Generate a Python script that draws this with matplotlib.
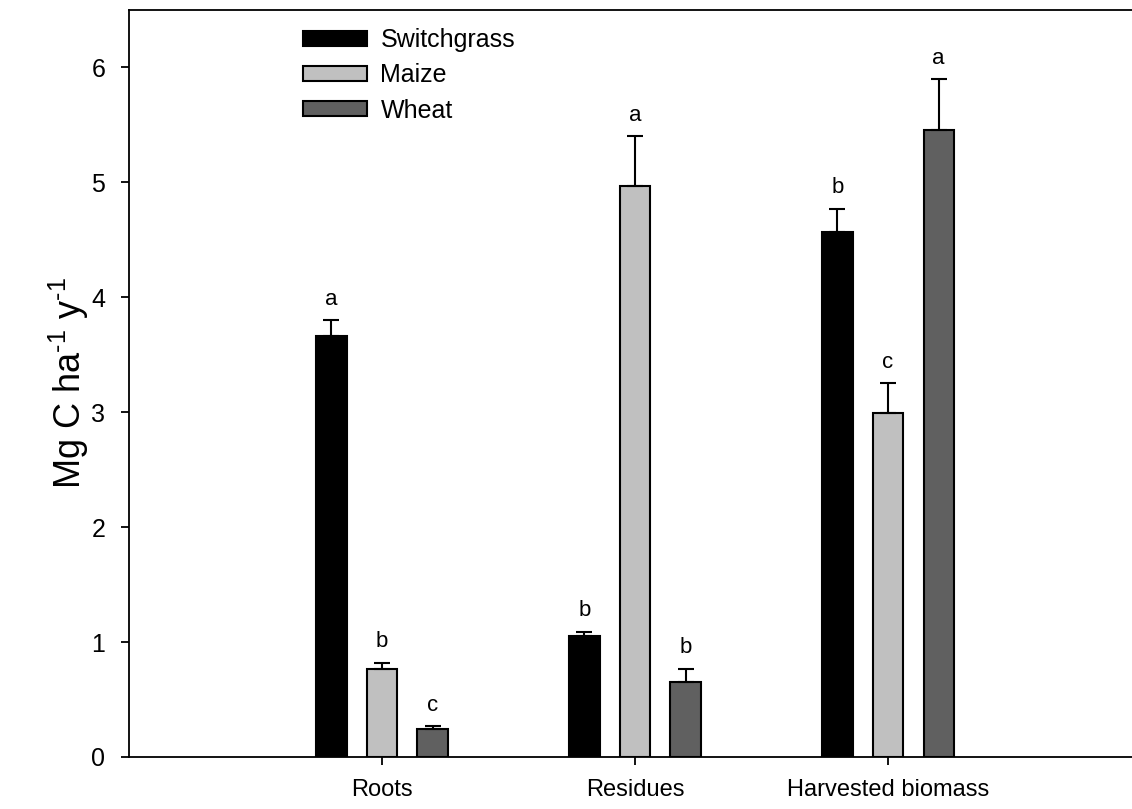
import numpy as np
import matplotlib
matplotlib.use("Agg")
import matplotlib.pyplot as plt

plt.rcParams['font.family'] = ['Liberation Sans', 'DejaVu Sans']
plt.rcParams['mathtext.fontset'] = 'custom'
plt.rcParams['mathtext.rm'] = 'Liberation Sans'
plt.rcParams['mathtext.it'] = 'Liberation Sans'

# data
categories = ["Roots", "Residues", "Harvested biomass"]
series = ["Switchgrass", "Maize", "Wheat"]
switchgrass = [3.66, 1.05, 4.57]
switchgrass_se = [0.14, 0.04, 0.20]
maize = [0.77, 4.97, 2.99]
maize_se = [0.05, 0.43, 0.26]
wheat = [0.24, 0.65, 5.46]
wheat_se = [0.03, 0.12, 0.44]
letters = [["a", "b", "b"], ["b", "a", "c"], ["c", "b", "a"]]

colors = ["#000000", "#c0c0c0", "#606060"]
values = [switchgrass, maize, wheat]
errors = [switchgrass_se, maize_se, wheat_se]

fig = plt.figure(figsize=(11.32, 8.09), dpi=100)
ax = fig.add_axes([129 / 1132, 1 - 757 / 809, 1 - 129 / 1132, (757 - 10) / 809])

x = np.arange(1, len(categories) + 1)
width = 0.12
offsets = [-0.2, 0.0, 0.2]

for vals, errs, lets, col, off, name in zip(values, errors, letters, colors, offsets, series):
    ax.bar(x + off, vals, width, color=col, edgecolor="black", linewidth=1.5,
           label=name, zorder=2)
    ax.errorbar(x + off, vals, yerr=[np.zeros(len(vals)), errs], fmt="none",
                ecolor="black", elinewidth=1.5, capsize=5.5, capthick=1.5, zorder=3)
    for xi, v, e, t in zip(x + off, vals, errs, lets):
        ax.text(xi, v + e + 0.09, t, ha="center", va="bottom", fontsize=16)

ax.set_xlim(0, 3.964)
ax.set_ylim(0, 6.5)
ax.set_xticks(x)
ax.set_xticklabels(categories)
ax.set_yticks(range(0, 7))
ax.tick_params(axis="both", direction="out", length=6, width=1.3)
ax.tick_params(axis="x", pad=10, labelsize=17)
ax.tick_params(axis="y", pad=11, labelsize=18)
ax.spines["right"].set_visible(False)
for s in ["left", "bottom", "top"]:
    ax.spines[s].set_linewidth(1.3)

ax.set_ylabel(r"Mg C ha$^{\text{-1}}$ y$^{\text{-1}}$", fontsize=26, labelpad=0)

ax.legend(loc="upper left", bbox_to_anchor=(303 / 1132, 1 - 28 / 809),
          bbox_transform=fig.transFigure, frameon=False, fontsize=18,
          handlelength=2.55, handleheight=0.55, handletextpad=0.55,
          labelspacing=0.45, borderpad=0, borderaxespad=0)

fig.savefig("out.png", dpi=100)
